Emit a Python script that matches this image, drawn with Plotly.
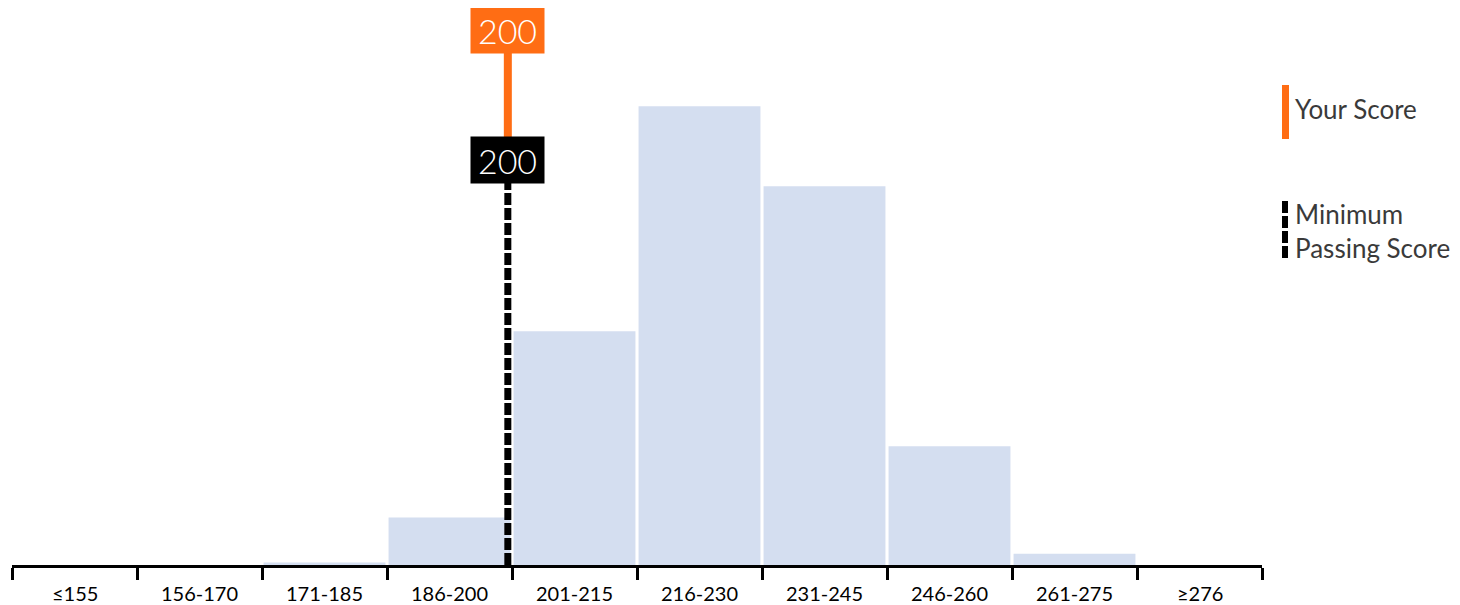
import plotly.graph_objects as go

categories = ["≤155", "156-170", "171-185", "186-200", "201-215", "216-230",
              "231-245", "246-260", "261-275", "≥276"]
percent = [0, 0, 0.2, 3.8, 18.7, 36.7, 30.3, 9.5, 0.9, 0]
bin_starts = [140.5, 155.5, 170.5, 185.5, 200.5, 215.5, 230.5, 245.5, 260.5, 275.5]
your_score = 200
min_passing = 200

ORANGE = "#FF6D14"
BAR = "#D4DEF0"
FONT = "Lato"

def score_pos(s):
    for i, b in enumerate(bin_starts):
        if b <= s < b + 15:
            return i - 0.5 + (s - b) / 15
    return len(bin_starts) - 0.5

xs = list(range(len(categories)))
PX_PER_UNIT = 12.5
PLOT_H = 557.0
PLOT_W = 1250.0
ymax = PLOT_H / PX_PER_UNIT

# page offset (body margin) = 8px; page coords -> paper coords
def px(xp):
    return (xp - 12) / PLOT_W

def py(yp):
    return (565 - yp) / PLOT_H

fig = go.Figure()
fig.add_trace(go.Bar(x=xs, y=percent, marker=dict(color=BAR, line=dict(width=0)),
                     hoverinfo="skip", showlegend=False))

# Category labels under the axis
for x, lab in zip(xs, categories):
    fig.add_annotation(x=x, y=py(593), xref="x", yref="paper", text=lab,
                       showarrow=False, yanchor="middle",
                       font=dict(family=FONT, size=20, color="black"))

xm = score_pos(min_passing)
xy = score_pos(your_score)

# Minimum passing line (dashed black)
fig.add_shape(type="line", x0=xm, x1=xm, y0=0, y1=30.6, xref="x", yref="y",
              line=dict(color="black", width=7, dash="12px,3px"))
# Your score line (orange)
fig.add_shape(type="line", x0=xy, x1=xy, y0=34.2, y1=41.0, xref="x", yref="y",
              line=dict(color=ORANGE, width=8))

fig.add_annotation(x=xm, y=32.4, xref="x", yref="y", text=str(min_passing), showarrow=False,
                   bgcolor="black", width=73, height=46, borderpad=0,
                   font=dict(family=FONT, size=34, color="white", weight=300))
fig.add_annotation(x=xy, y=42.8, xref="x", yref="y", text=str(your_score), showarrow=False,
                   bgcolor=ORANGE, width=73, height=46, borderpad=0,
                   font=dict(family=FONT, size=34, color="white", weight=300))

# Legend
fig.add_shape(type="rect", xref="paper", yref="paper", x0=px(1282), x1=px(1289),
              y0=py(139), y1=py(85), fillcolor=ORANGE, line=dict(width=0))
fig.add_shape(type="line", xref="paper", yref="paper", x0=px(1285), x1=px(1285),
              y0=py(258), y1=py(200),
              line=dict(color="black", width=6, dash="12px,3px"))
fig.add_annotation(xref="paper", yref="paper", x=px(1293), y=py(109),
                   xanchor="left", yanchor="middle", text="Your Score", showarrow=False,
                   font=dict(family=FONT, size=26, color="#3a3a3a"))
fig.add_annotation(xref="paper", yref="paper", x=px(1293), y=py(231),
                   xanchor="left", yanchor="middle", text="Minimum<br>Passing Score",
                   showarrow=False, align="left",
                   font=dict(family=FONT, size=26, color="#3a3a3a"))

fig.update_layout(
    width=1452, height=597,
    margin=dict(l=4, r=198, t=0, b=40, autoexpand=False),
    plot_bgcolor="white", paper_bgcolor="white",
    bargap=0.025, showlegend=False,
    xaxis=dict(range=[-0.5, len(categories) - 0.5],
               tickvals=[i - 0.5 for i in range(len(categories) + 1)],
               ticktext=[""] * (len(categories) + 1),
               ticks="outside", ticklen=12, tickwidth=3, tickcolor="black",
               showline=True, linecolor="black", linewidth=3, automargin=False,
               showgrid=False, zeroline=False, fixedrange=True),
    yaxis=dict(range=[0, ymax], visible=False, showgrid=False, zeroline=False,
               automargin=False),
)

fig.write_html("out.html")
